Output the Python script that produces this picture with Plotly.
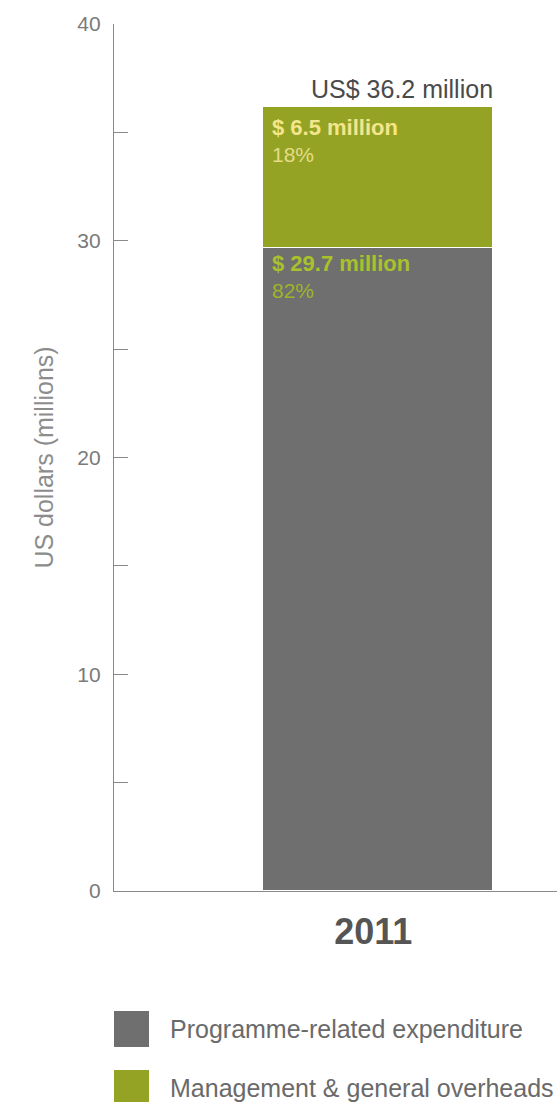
import plotly.graph_objects as go

# Expenditure breakdown, 2011 (US$ millions)
years = ["2011"]
programme = [29.7]
overheads = [6.5]
programme_pct = ["82%"]
overheads_pct = ["18%"]
total = [36.2]
series_names = ["Programme-related expenditure", "Management & general overheads"]

GREY = "#6f6f6f"
OLIVE = "#94a324"
FONT = "Liberation Sans, Arial, sans-serif"
BAR_W = 0.6

# plot-area geometry in pixels
W, H = 557, 1102
M_L, M_T, M_B = 114, 24, 211
PLOT_W = W - M_L
PLOT_H = H - M_T - M_B
BASE = H - M_B

fig = go.Figure()
fig.add_trace(go.Bar(x=[0], y=programme, width=BAR_W, name=series_names[0],
                     marker=dict(color=GREY, line=dict(color="white", width=1.5))))
fig.add_trace(go.Bar(x=[0], y=overheads, width=BAR_W, name=series_names[1],
                     marker=dict(color=OLIVE, line=dict(color="white", width=1.5))))

left = -BAR_W / 2
right = BAR_W / 2
top_over = programme[0] + overheads[0]
ann = [
    dict(x=left, y=top_over, xref="x", yref="y", xanchor="left", yanchor="top",
         xshift=8, yshift=-7, showarrow=False,
         text=f"<b>$ {overheads[0]} million</b>",
         font=dict(family=FONT, size=22, color="#f4e68c")),
    dict(x=left, y=top_over, xref="x", yref="y", xanchor="left", yanchor="top",
         xshift=8, yshift=-35, showarrow=False, text=overheads_pct[0],
         font=dict(family=FONT, size=21, color="#e3dc86")),
    dict(x=left, y=programme[0], xref="x", yref="y", xanchor="left", yanchor="top",
         xshift=8, yshift=-2, showarrow=False,
         text=f"<b>$ {programme[0]} million</b>",
         font=dict(family=FONT, size=22, color="#a9c22c")),
    dict(x=left, y=programme[0], xref="x", yref="y", xanchor="left", yanchor="top",
         xshift=8, yshift=-30, showarrow=False, text=programme_pct[0],
         font=dict(family=FONT, size=21, color="#9db52a")),
    dict(x=right, y=total[0], xref="x", yref="y", xanchor="right", yanchor="bottom",
         xshift=2, yshift=1, showarrow=False, text=f"US$ {total[0]} million",
         font=dict(family=FONT, size=25, color="#4a4a4a")),
]

# legend swatches below the plot
shapes = []
leg_y = [1029, 1088]
for name, col, yc in zip(series_names, [GREY, OLIVE], leg_y):
    shapes.append(dict(type="rect", xref="paper", yref="paper",
                       x0=0, x1=35 / PLOT_W,
                       y0=(BASE - (yc + 18)) / PLOT_H, y1=(BASE - (yc - 18)) / PLOT_H,
                       line=dict(width=0), fillcolor=col))
    ann.append(dict(x=54 / PLOT_W, y=(BASE - yc) / PLOT_H, xref="paper", yref="paper",
                    xanchor="left", yanchor="middle", showarrow=False, text=name,
                    font=dict(family=FONT, size=25, color="#6a6a6a")))

tickvals = list(range(0, 45, 5))
ticktext = [str(v) if v % 10 == 0 else "" for v in tickvals]

fig.update_layout(
    barmode="stack",
    width=W, height=H,
    margin=dict(l=M_L, r=0, t=M_T, b=M_B),
    paper_bgcolor="white", plot_bgcolor="white",
    showlegend=False,
    annotations=ann,
    shapes=shapes,
    xaxis=dict(range=[-263.5 / 385, 179.5 / 385], tickvals=[-0.011], ticktext=years,
               showgrid=False, zeroline=False, showline=True, linecolor="#8a8a8a",
               linewidth=1.2, ticks="", ticklabelstandoff=9,
               tickfont=dict(family=FONT, size=36, color="#555555", weight="bold")),
    yaxis=dict(range=[0, 40], tickvals=tickvals, ticktext=ticktext,
               showgrid=False, zeroline=False, showline=True, linecolor="#8a8a8a",
               linewidth=1.2, ticks="inside", ticklen=14, tickcolor="#8a8a8a",
               tickwidth=1, ticklabelstandoff=8,
               tickfont=dict(family=FONT, size=21, color="#7a7a7a"),
               title=dict(text="US dollars (millions)", standoff=16,
                          font=dict(family=FONT, size=25, color="#8c8c8c"))),
)

fig.write_html("out.html")
